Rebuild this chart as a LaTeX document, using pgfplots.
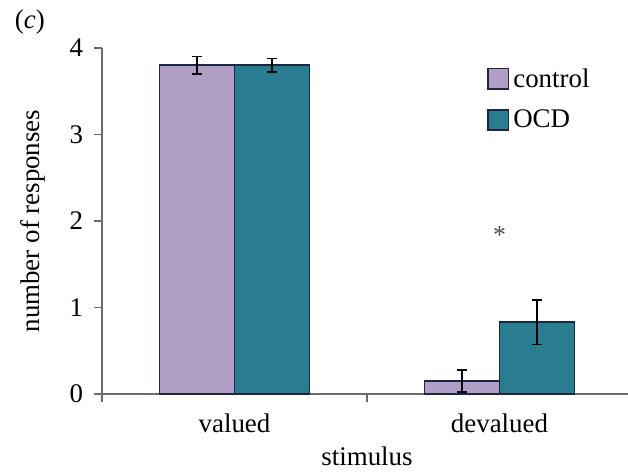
\documentclass[border=0pt]{standalone}
\usepackage{pgfplots}
\pgfplotsset{compat=1.18}
\usepackage{fontspec}
\setmainfont{Liberation Serif}
\definecolor{ctrl}{RGB}{176,158,198}
\definecolor{ocd}{RGB}{42,125,145}
\definecolor{edge}{RGB}{28,40,64}
\begin{document}
\begin{tikzpicture}
\useasboundingbox (0,0) rectangle (314bp,237bp);
\begin{axis}[
  at={(51bp,40bp)}, anchor=south west,
  scale only axis, width=265bp, height=173bp,
  xmin=0, xmax=2, ymin=0, ymax=4,
  axis lines*=left,
  axis line style={gray!85!black, line width=1.2bp, -},
  xtick={0,1,2}, xticklabels={valued,devalued}, x tick label as interval,
  ytick={0,1,2,3,4},
  tick style={gray!85!black, line width=0.9bp},
  tick align=outside, major tick length=4bp,
  /pgf/number format/assume math mode=true,
  tick label style={font=\fontsize{13.5}{15}\selectfont},
  xticklabel style={yshift=-2.5bp},
  yticklabel style={xshift=-2bp},
  label style={font=\fontsize{13.5}{16}\selectfont},
  xlabel={stimulus}, ylabel={number of responses},
  xlabel style={at={(rel axis cs:0.5,0)}, yshift=-23bp},
  ylabel style={at={(axis description cs:-0.13,0.5)}, anchor=center},
  ybar, bar width=0.283, bar shift=0pt,
  legend style={draw=none, fill=none, at={(0.715,0.965)}, anchor=north west,
    font=\fontsize{13.5}{16}\selectfont, row sep=6bp,
    legend cell align=left},
  legend image code/.code={\draw[#1, draw=edge, line width=0.8bp] (0cm,-0.17cm) rectangle (0.36cm,0.19cm);},
  error bars/error bar style={black, line width=0.8bp},
  error bars/error mark options={rotate=90, mark size=2.5bp, line width=0.8bp},
  clip=false,
]
\addplot[fill=ctrl, draw=edge, line width=0.9bp,
  error bars/.cd, y dir=both, y explicit]
  coordinates {(0.3585,3.80) +- (0,0.10) (1.3585,0.15) +- (0,0.13)};
\addlegendentry{control}
\addplot[fill=ocd, draw=edge, line width=0.9bp,
  error bars/.cd, y dir=both, y explicit]
  coordinates {(0.6415,3.80) +- (0,0.08) (1.6415,0.83) +- (0,0.26)};
\addlegendentry{OCD}
\node[font=\fontsize{13}{15}\selectfont, text=gray!60!black] at (axis cs:1.5,1.84) {*};
\node[font=\fontsize{13.5}{16}\selectfont] at (rel axis cs:-0.136,1.075) {(\textit{c})};
\end{axis}
\end{tikzpicture}
\end{document}
